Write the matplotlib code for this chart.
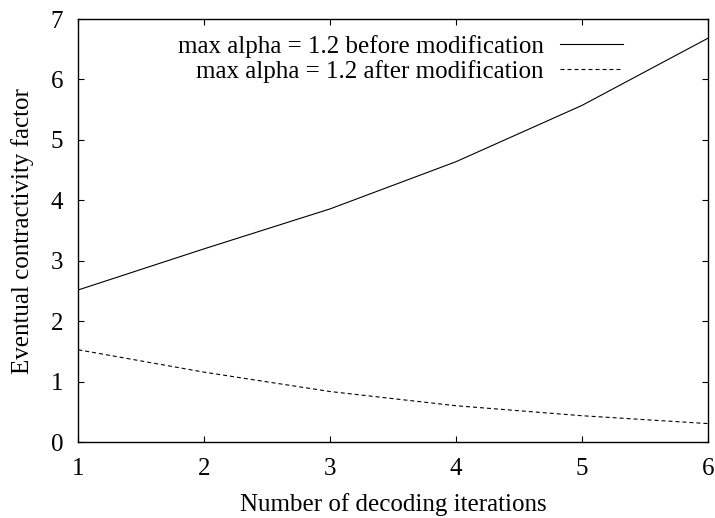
import numpy as np
import matplotlib.pyplot as plt

plt.rcParams['font.family'] = ['Liberation Serif', 'DejaVu Serif']

iterations = [1, 2, 3, 4, 5, 6]
before_mod = [2.52, 3.20, 3.86, 4.64, 5.57, 6.68]
after_mod = [1.53, 1.16, 0.84, 0.605, 0.44, 0.31]

fs = 18

fig = plt.figure(figsize=(7.15, 5.18), dpi=100)
ax = fig.add_axes([0.1095, 0.1461, 0.8803, 0.8172])

ax.plot(iterations, before_mod, color='black', linewidth=0.8,
        label='max alpha = 1.2 before modification')
ax.plot(iterations, after_mod, color='black', linewidth=0.8,
        dashes=(3.6, 2.7), label='max alpha = 1.2 after modification')

ax.set_xlim(1, 6)
ax.set_ylim(0, 7)
ax.set_xticks(range(1, 7))
ax.set_yticks(range(0, 8))

for s in ax.spines.values():
    s.set_linewidth(1.0)

ax.tick_params(axis='both', direction='in', length=4.5, width=0.8,
               top=True, right=True, labelsize=fs)
ax.tick_params(axis='x', pad=11)
ax.tick_params(axis='y', pad=11)

ax.set_xlabel('Number of decoding iterations', fontsize=fs, labelpad=10)
ax.set_ylabel('Eventual contractivity factor', fontsize=fs, labelpad=12)

leg = ax.legend(loc='upper right', bbox_to_anchor=(0.865, 0.963),
                frameon=False, markerfirst=False, fontsize=fs,
                handlelength=2.5, handletextpad=0.66, labelspacing=0.09,
                borderaxespad=0, borderpad=0)

plt.savefig('out.png', dpi=100)
